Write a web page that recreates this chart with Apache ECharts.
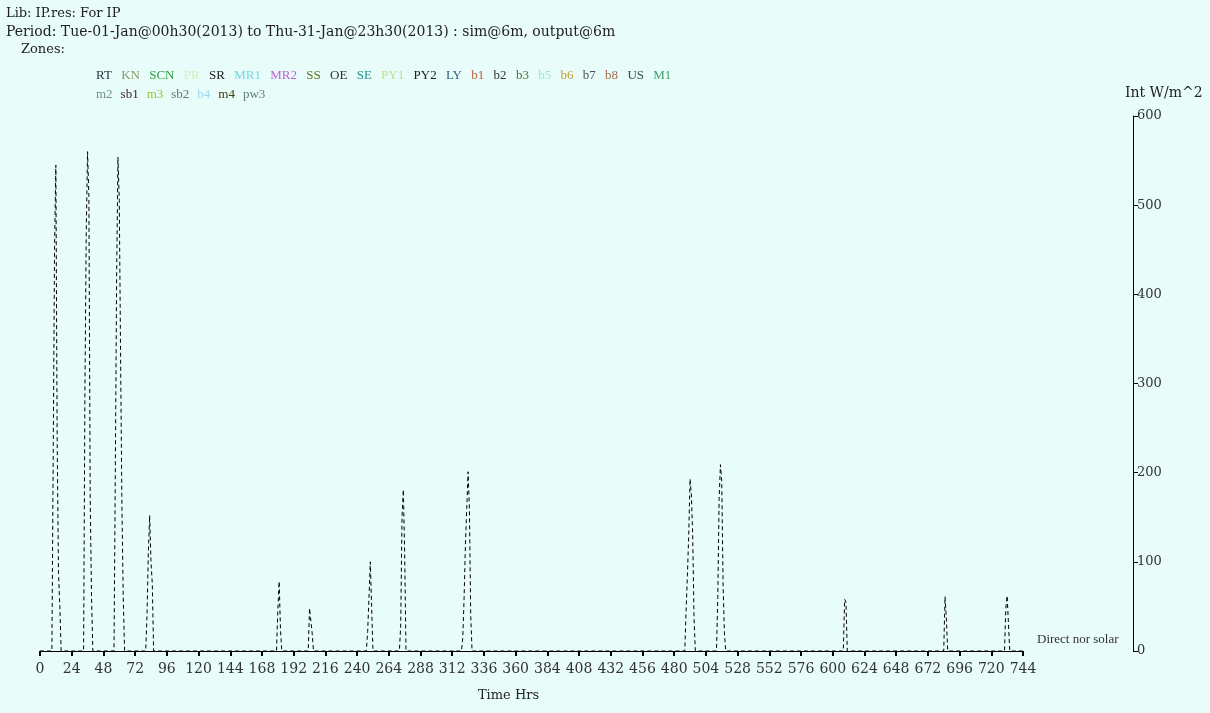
<!DOCTYPE html>
<html>
<head>
<meta charset="utf-8">
<title>IP.res - Direct nor solar</title>
<script src="https://cdn.jsdelivr.net/npm/echarts@6/dist/echarts.min.js"></script>
<style>
  html, body { margin: 0; padding: 0; background: #e8fcfa; }
  #chart { width: 1210px; height: 713px; }
</style>
</head>
<body>
<div id="chart"></div>
<script>
// hours and direct normal solar values (W/m^2)
var hours = [0,
  9, 10, 11, 12, 13, 14, 15, 16,
  33, 34, 35, 36, 37, 38, 39, 40,
  56, 57, 58, 59, 60, 61, 62, 63, 64,
  80, 81, 82, 83, 84, 85, 86,
  179, 180, 181, 182, 183,
  203, 204, 205, 206, 207,
  247, 248, 249, 250, 251, 252,
  272, 273, 274, 275, 276, 277,
  319, 320, 321, 322, 323, 324, 325, 326, 327,
  488, 489, 490, 491, 492, 493, 494, 495, 496,
  512, 513, 514, 515, 516, 517, 518, 519,
  608, 609, 610, 611,
  684, 685, 686, 687,
  730, 731, 732, 733, 734,
  744];
var directNorSolar = [0,
  0, 220, 450, 545, 235, 87, 50, 0,
  0, 290, 470, 560, 510, 170, 60, 0,
  0, 200, 420, 554, 505, 330, 163, 61, 0,
  0, 40, 110, 152, 100, 75, 0,
  0, 45, 78, 25, 0,
  0, 48, 50, 20, 0,
  0, 22, 60, 100, 50, 0,
  0, 28, 150, 181, 110, 0,
  0, 15, 60, 120, 160, 201, 160, 40, 0,
  0, 45, 85, 130, 193, 175, 130, 38, 0,
  0, 60, 170, 209, 190, 75, 20, 0,
  0, 58, 55, 0,
  0, 61, 36, 0,
  0, 48, 62, 30, 0,
  0];

var zonesRow1 = ['RT', 'KN', 'SCN', 'PR', 'SR', 'MR1', 'MR2', 'SS', 'OE', 'SE', 'PY1', 'PY2',
  'LY', 'b1', 'b2', 'b3', 'b5', 'b6', 'b7', 'b8', 'US', 'M1'];
var zonesRow1Colors = ['#1f3040', '#8a9a6a', '#30a040', '#d4eeb0', '#202020', '#70d8e0', '#c060d0',
  '#607020', '#303030', '#209090', '#c0e090', '#202020', '#306080', '#c06040', '#303030',
  '#507030', '#a0e8c0', '#c0a030', '#505050', '#a07050', '#305050', '#40a070'];
var zonesRow2 = ['m2', 'sb1', 'm3', 'sb2', 'b4', 'm4', 'pw3'];
var zonesRow2Colors = ['#709090', '#402828', '#a0c030', '#607a70', '#a0d8f0', '#404010', '#608080'];

var FONT = 'DejaVu Serif';
var ZONE_FONT = 'Liberation Serif';

function zoneLine(names, colors, prefix, gap) {
  var rich = {};
  var parts = names.map(function (n, i) {
    rich[prefix + i] = { color: colors[i], fontFamily: ZONE_FONT, fontSize: 13,
      fontWeight: 'normal', padding: [0, gap, 0, 0] };
    return '{' + prefix + i + '|' + n + '}';
  });
  return { text: parts.join(''), rich: rich };
}

var row1 = zoneLine(zonesRow1, zonesRow1Colors, 'a', 9.3);
var row2 = zoneLine(zonesRow2, zonesRow2Colors, 'b', 8);

var myChart = echarts.init(document.getElementById('chart'));

var pts = hours.map(function (h, i) { return [h, directNorSolar[i]]; });

var headStyle = { fontFamily: FONT, fontSize: 13, fontWeight: 'normal', color: '#222' };

var option = {
  backgroundColor: '#e8fcfa',
  animation: false,
  textStyle: { fontFamily: FONT },
  title: [
    { text: 'Lib: IP.res: For IP', left: 1, top: 2, textStyle: headStyle },
    { text: 'Period: Tue-01-Jan@00h30(2013) to Thu-31-Jan@23h30(2013) : sim@6m, output@6m', left: 1, top: 20,
      textStyle: { fontFamily: FONT, fontSize: 14, fontWeight: 'normal', color: '#222' } },
    { text: 'Zones:', left: 16, top: 38, textStyle: headStyle },
    { text: row1.text, left: 91, top: 64, textStyle: { rich: row1.rich } },
    { text: row2.text, left: 91, top: 83, textStyle: { rich: row2.rich } }
  ],
  grid: { left: 40, right: 187, top: 116, bottom: 62 },
  xAxis: {
    type: 'value',
    min: 0,
    max: 744,
    interval: 24,
    name: 'Time Hrs',
    nameLocation: 'middle',
    nameGap: 38,
    nameTextStyle: { fontFamily: FONT, fontSize: 13, color: '#222', padding: [0, 46, 0, 0] },
    axisLine: { lineStyle: { color: '#000', width: 1 } },
    axisTick: { length: 5, lineStyle: { color: '#000', width: 2 } },
    axisLabel: { fontFamily: FONT, fontSize: 14, color: '#333', margin: 11 },
    splitLine: { show: false }
  },
  yAxis: {
    type: 'value',
    position: 'right',
    offset: 110,
    min: 0,
    max: 600,
    interval: 100,
    name: 'Int W/m^2',
    nameLocation: 'end',
    nameGap: 16,
    nameTextStyle: { fontFamily: FONT, fontSize: 14, color: '#222', align: 'left', padding: [0, 0, 0, -8] },
    axisLine: { show: true, onZero: false, lineStyle: { color: '#000', width: 1 } },
    axisTick: { show: true, length: 5, lineStyle: { color: '#000' } },
    axisLabel: { fontFamily: FONT, fontSize: 13, color: '#333', margin: 4 },
    splitLine: { show: false }
  },
  series: [
    {
      name: 'Direct nor solar',
      type: 'line',
      data: pts,
      symbol: 'none',
      lineStyle: { color: '#000', width: 1, type: [4, 3] },
      endLabel: {
        show: true,
        formatter: '{a}',
        fontFamily: ZONE_FONT,
        fontSize: 13,
        color: '#333',
        offset: [6, -11]
      }
    }
  ]
};

myChart.setOption(option);
</script>
</body>
</html>
